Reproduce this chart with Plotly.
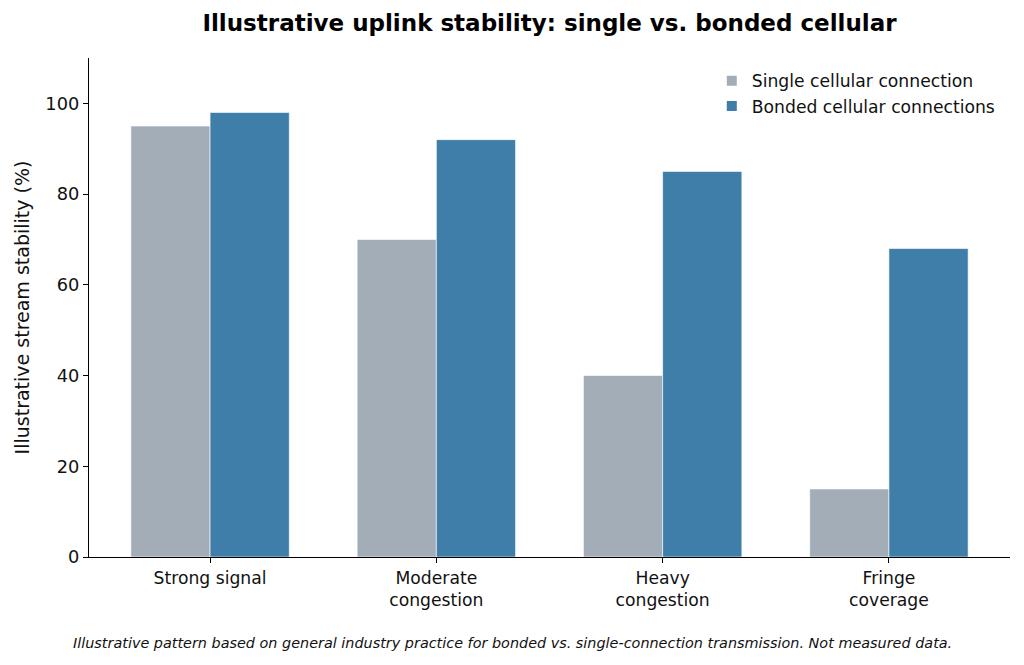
import plotly.graph_objects as go

categories = ["Strong signal", "Moderate<br>congestion", "Heavy<br>congestion", "Fringe<br>coverage"]
single_values = [95, 70, 40, 15]
bonded_values = [98, 92, 85, 68]
series_names = ["Single cellular connection", "Bonded cellular connections"]
y_ticks = [0, 20, 40, 60, 80, 100]

GRAY = "#A3ADB8"
BLUE = "#3E7EA8"
FONT = "DejaVu Sans"
TXT = "#111111"

x_idx = list(range(len(categories)))

fig = go.Figure()
fig.add_trace(go.Bar(x=x_idx, y=single_values, name=series_names[0],
                     marker=dict(color=GRAY, line=dict(color="white", width=0.6))))
fig.add_trace(go.Bar(x=x_idx, y=bonded_values, name=series_names[1],
                     marker=dict(color=BLUE, line=dict(color="white", width=0.6))))

fig.update_layout(
    width=1024, height=665,
    margin=dict(l=89, r=14, t=58, b=108),
    paper_bgcolor="white", plot_bgcolor="white",
    barmode="group", bargap=0.3, bargroupgap=0,
    font=dict(family=FONT, size=17, color=TXT),
    title=dict(text="<b>Illustrative uplink stability: single vs. bonded cellular</b>",
               xref="paper", x=0.5, xanchor="center", y=1 - 23 / 665, yanchor="middle",
               font=dict(size=23, family=FONT, color="black")),
    showlegend=True,
    legend=dict(x=0.99, xanchor="right", y=0.99, yanchor="top",
                bgcolor="rgba(0,0,0,0)", font=dict(size=17.2, family=FONT, color=TXT),
                itemsizing="constant", tracegroupgap=2),
    xaxis=dict(range=[-0.535, 3.535], tickmode="array", tickvals=x_idx, ticktext=categories,
               showline=True, linecolor="black", linewidth=1.25, ticks="outside",
               ticklen=5, tickwidth=1.25, tickcolor="black", showgrid=False, zeroline=False,
               tickfont=dict(size=17.2, family=FONT, color=TXT)),
    yaxis=dict(range=[0, 110], tickmode="array", tickvals=y_ticks,
               showline=True, linecolor="black", linewidth=1.25, ticks="outside",
               ticklen=5, tickwidth=1.25, tickcolor="black", showgrid=False, zeroline=False,
               tickfont=dict(size=17.8, family=FONT, color=TXT),
               title=dict(text="Illustrative stream stability (%)", standoff=10,
                          font=dict(size=19, family=FONT, color=TXT))),
)

fig.add_annotation(text="<i>Illustrative pattern based on general industry practice for bonded vs. single-connection transmission. Not measured data.</i>",
                   xref="paper", yref="paper", x=(512 - 89) / 921, y=-(643 - 557) / (557 - 58),
                   xanchor="center", yanchor="middle", showarrow=False,
                   font=dict(size=14.4, family=FONT, color=TXT))

fig.write_html("out.html")
